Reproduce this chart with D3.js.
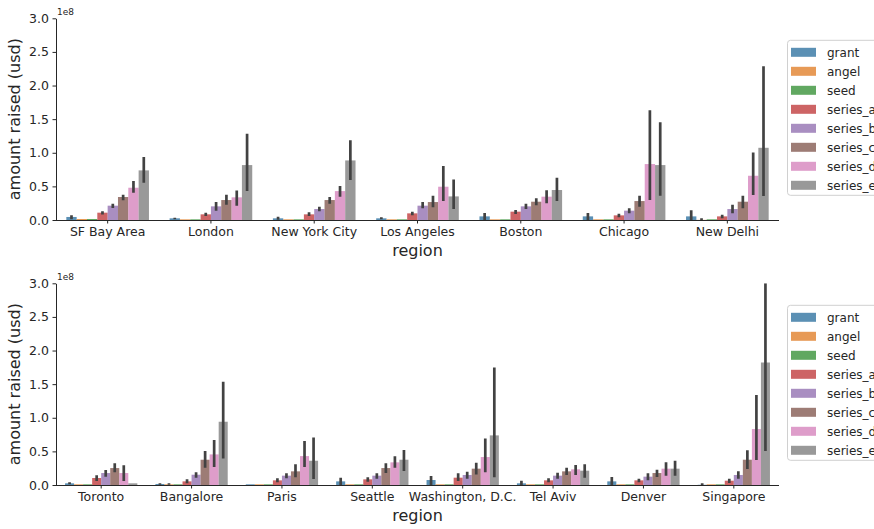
<!DOCTYPE html>
<html>
<head>
<meta charset="utf-8">
<script src="https://cdn.jsdelivr.net/npm/d3@7"></script>
<style>
  html, body { margin: 0; padding: 0; background: #fff; }
  svg { display: block; font-family: "DejaVu Sans", sans-serif; }
</style>
</head>
<body>
<svg id="chart" width="874" height="529"></svg>
<script>
// ---- data (values in millions of USD) ----
const hues = ["grant", "angel", "seed", "series_a", "series_b", "series_c", "series_d", "series_e"];
const hueColors = ["#3274a1", "#e1812c", "#3a923a", "#c03d3e", "#9372b2", "#845b53", "#d684bd", "#7f7f7f"];
const yTicks = [0, 50, 100, 150, 200, 250, 300];

const topRegions = ["SF Bay Area", "London", "New York City", "Los Angeles", "Boston", "Chicago", "New Delhi"];
const topMean = [
  [4.5, 1.5, 1.5, 10.9, 21.3, 34.2, 48.0, 73.8],
  [2.5, 1.0, 1.0, 8.4, 20.3, 29.7, 33.7, 81.7],
  [2.5, 1.0, 1.0, 8.4, 16.3, 29.7, 43.0, 88.6],
  [2.5, 1.0, 1.0, 9.9, 21.3, 26.7, 49.5, 35.1],
  [5.4, 1.0, 1.0, 12.4, 20.3, 27.2, 34.7, 44.6],
  [5.4, 1.0, 1.0, 6.9, 13.9, 28.2, 83.2, 81.7],
  [5.4, 0.2, 1.0, 5.4, 16.3, 27.2, 65.8, 107.4]
];
const topLow = [
  [1.0, 1.5, 1.5, 8.0, 17.8, 29.2, 40.6, 55.4],
  [1.0, 1.0, 1.0, 5.9, 13.9, 22.8, 21.3, 43.1],
  [0.5, 1.0, 1.0, 5.9, 12.9, 24.3, 34.7, 59.4],
  [1.0, 1.0, 1.0, 6.9, 17.3, 18.8, 28.2, 16.3],
  [0.0, 1.0, 1.0, 8.9, 16.3, 21.8, 24.8, 28.2],
  [0.0, 1.0, 1.0, 4.0, 9.9, 19.8, 29.7, 36.1],
  [0.0, 0.0, 1.0, 2.5, 9.9, 17.3, 37.1, 35.6]
];
const topHigh = [
  [7.0, 1.5, 1.5, 12.9, 24.3, 37.6, 57.9, 93.6],
  [3.5, 1.0, 1.0, 10.9, 26.7, 37.6, 44.0, 128.2],
  [5.0, 1.0, 1.0, 11.4, 19.8, 34.2, 50.5, 118.8],
  [4.0, 1.0, 1.0, 12.4, 26.7, 36.1, 80.2, 60.4],
  [10.4, 1.0, 1.0, 14.9, 24.3, 32.2, 44.1, 62.9],
  [10.4, 1.0, 1.0, 9.4, 17.3, 36.1, 163.4, 145.5],
  [14.4, 2.5, 1.0, 7.9, 22.8, 36.1, 100.5, 228.7]
];

const botRegions = ["Toronto", "Bangalore", "Paris", "Seattle", "Washington, D.C.", "Tel Aviv", "Denver", "Singapore"];
const botMean = [
  [2.5, 1.0, 1.0, 10.4, 17.8, 25.2, 17.8, 2.5],
  [1.5, 1.0, 1.0, 5.4, 15.3, 37.6, 45.5, 94.1],
  [1.0, 1.0, 1.0, 6.9, 13.9, 20.3, 43.0, 36.1],
  [5.4, 1.0, 1.0, 8.4, 13.9, 25.2, 33.7, 37.6],
  [7.4, 1.0, 1.0, 10.9, 14.9, 24.3, 41.6, 73.8],
  [2.5, 1.0, 1.0, 6.9, 13.9, 20.3, 23.3, 21.3],
  [5.4, 1.0, 1.0, 6.9, 12.4, 17.8, 24.3, 24.3],
  [0.3, 1.0, 1.0, 6.4, 14.9, 37.6, 83.2, 182.2]
];
const botLow = [
  [1.0, 1.0, 1.0, 5.9, 12.4, 18.8, 5.9, 2.5],
  [0.5, 0.5, 1.0, 2.5, 10.9, 25.7, 26.7, 39.6],
  [1.0, 1.0, 1.0, 4.0, 9.9, 11.4, 26.7, 8.9],
  [0.0, 1.0, 1.0, 5.0, 9.4, 17.8, 25.7, 20.8],
  [0.0, 1.0, 1.0, 5.9, 9.4, 15.8, 18.8, 11.4],
  [0.0, 1.0, 1.0, 4.0, 9.4, 14.9, 14.8, 10.9],
  [0.0, 1.0, 1.0, 4.0, 6.9, 11.9, 13.9, 13.9],
  [0.0, 1.0, 1.0, 3.0, 9.4, 23.8, 37.1, 50.5]
];
const botHigh = [
  [4.0, 1.0, 1.0, 14.4, 22.3, 32.2, 29.2, 2.5],
  [2.5, 2.5, 1.0, 8.4, 18.8, 50.5, 66.8, 153.5],
  [1.0, 1.0, 1.0, 9.9, 17.3, 30.7, 65.3, 70.8],
  [10.9, 1.0, 1.0, 11.4, 17.3, 32.2, 42.6, 52.0],
  [13.4, 1.0, 1.0, 17.3, 19.8, 33.2, 69.3, 174.8],
  [6.4, 1.0, 1.0, 9.9, 18.3, 25.7, 29.7, 30.7],
  [11.9, 1.0, 1.0, 9.4, 17.3, 22.8, 33.7, 36.1],
  [2.5, 1.0, 1.0, 9.4, 20.3, 51.5, 133.7, 300.0]
];

// ---- drawing ----
const svg = d3.select("#chart");
const textColor = "#262626";
const plotLeft = 56, plotRight = 779;

function drawPanel(idx, top, bottom, regions, mean, low, high) {
  const g = svg.append("g");
  const x = d3.scaleBand().domain(regions).range([plotLeft, plotRight]).paddingInner(0).paddingOuter(0);
  const xh = d3.scaleBand().domain(hues).range([0.1 * x.bandwidth(), 0.9 * x.bandwidth()]).padding(0);
  const y = d3.scaleLinear().domain([0, 300]).range([bottom, top]);

  const clipId = "clip" + idx;
  svg.append("clipPath").attr("id", clipId)
    .append("rect").attr("x", plotLeft).attr("y", top).attr("width", plotRight - plotLeft).attr("height", bottom - top);

  const cells = [];
  regions.forEach((r, i) => hues.forEach((h, j) => {
    cells.push({ r, h, j, m: mean[i][j], lo: low[i][j], hi: high[i][j] });
  }));

  g.append("g").attr("clip-path", `url(#${clipId})`)
    .selectAll("rect").data(cells).join("rect")
    .attr("x", d => x(d.r) + xh(d.h))
    .attr("width", xh.bandwidth())
    .attr("y", d => y(d.m))
    .attr("height", d => y(0) - y(d.m))
    .attr("fill", d => hueColors[d.j])
    .attr("fill-opacity", 0.8);

  g.append("g").attr("clip-path", `url(#${clipId})`)
    .selectAll("line").data(cells.filter(d => d.hi - d.lo > 0.3)).join("line")
    .attr("x1", d => x(d.r) + xh(d.h) + xh.bandwidth() / 2)
    .attr("x2", d => x(d.r) + xh(d.h) + xh.bandwidth() / 2)
    .attr("y1", d => y(d.lo))
    .attr("y2", d => y(d.hi))
    .attr("stroke", "#424242")
    .attr("stroke-width", 2.7);

  // axes
  const xAxis = g.append("g").attr("transform", `translate(0,${bottom})`)
    .call(d3.axisBottom(x).tickSize(3.5).tickPadding(3.5).tickSizeOuter(0));
  const yAxis = g.append("g").attr("transform", `translate(${plotLeft},0)`)
    .call(d3.axisLeft(y).tickValues(yTicks).tickFormat(v => d3.format(".1f")(v / 100)).tickSize(3.5).tickPadding(3.5).tickSizeOuter(0));
  [xAxis, yAxis].forEach(a => {
    a.select(".domain").attr("stroke", textColor).attr("stroke-width", 1);
    a.selectAll(".tick line").attr("stroke", textColor).attr("stroke-width", 1);
    a.selectAll(".tick text").attr("fill", textColor).attr("font-size", 12.5).attr("font-family", "DejaVu Sans");
  });
  xAxis.select(".domain").attr("d", `M${plotLeft},0.5H${plotRight}`);

  // offset text
  g.append("text").attr("x", 57).attr("y", top - 3.5)
    .attr("font-size", 9).attr("fill", textColor).text("1e8");

  // axis labels
  g.append("text")
    .attr("transform", `translate(20,${(top + bottom) / 2}) rotate(-90)`)
    .attr("text-anchor", "middle").attr("font-size", 16).attr("fill", textColor)
    .text("amount raised (usd)");
  g.append("text")
    .attr("x", (plotLeft + plotRight) / 2).attr("y", bottom + 36)
    .attr("text-anchor", "middle").attr("font-size", 16).attr("fill", textColor)
    .text("region");

  // legend
  const lg = g.append("g");
  lg.append("rect").attr("x", 787.5).attr("y", top + 22).attr("width", 120).attr("height", 155)
    .attr("rx", 3).attr("fill", "#fff").attr("fill-opacity", 0.8).attr("stroke", "#d0d0d0").attr("stroke-width", 1);
  hues.forEach((h, j) => {
    const cy = top + 34 + j * 19;
    lg.append("rect").attr("x", 791).attr("y", cy - 4.5).attr("width", 25).attr("height", 9)
      .attr("fill", hueColors[j]).attr("fill-opacity", 0.8);
    lg.append("text").attr("x", 827).attr("y", cy).attr("dy", "0.35em")
      .attr("font-size", 12).attr("fill", textColor).text(h);
  });
}

drawPanel(0, 18.3, 220, topRegions, topMean, topLow, topHigh);
drawPanel(1, 283.3, 485, botRegions, botMean, botLow, botHigh);
</script>
</body>
</html>
